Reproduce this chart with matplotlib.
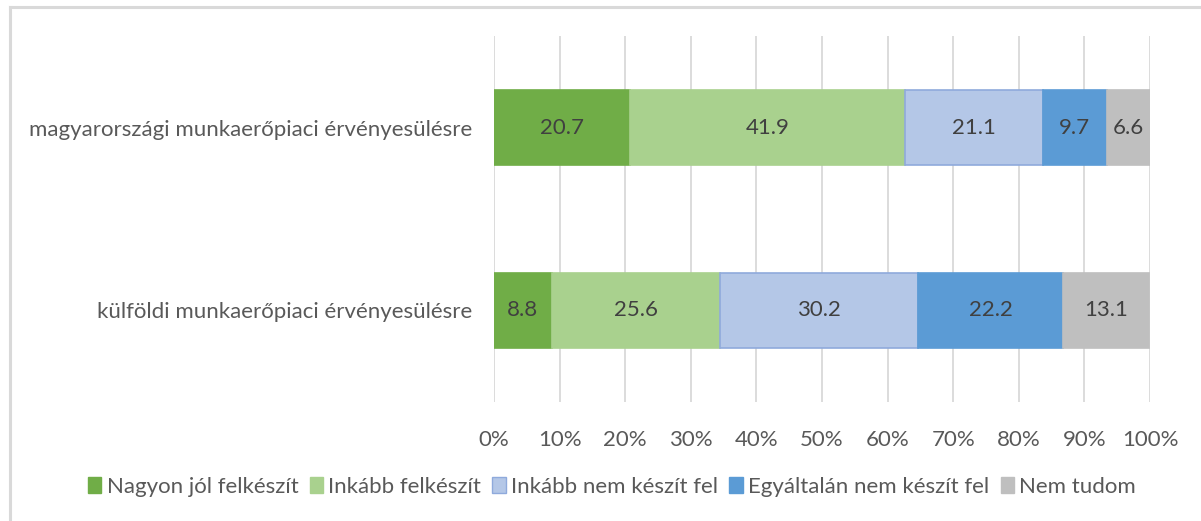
import matplotlib.pyplot as plt
import numpy as np
from matplotlib.patches import Patch
from matplotlib.lines import Line2D

plt.rcParams["font.family"] = ["Lato", "DejaVu Sans"]

# Data
categories = ["magyarországi munkaerőpiaci érvényesülésre", "külföldi munkaerőpiaci érvényesülésre"]
series_names = ["Nagyon jól felkészít", "Inkább felkészít", "Inkább nem készít fel",
                "Egyáltalán nem készít fel", "Nem tudom"]
nagyon = [20.7, 8.8]
inkabb = [41.9, 25.6]
inkabb_nem = [21.1, 30.2]
egyaltalan = [9.7, 22.2]
nem_tudom = [6.6, 13.1]
x_ticks = [0, 10, 20, 30, 40, 50, 60, 70, 80, 90, 100]

values = [nagyon, inkabb, inkabb_nem, egyaltalan, nem_tudom]
colors = ["#70AD47", "#A9D18E", "#B4C7E7", "#5B9BD5", "#BFBFBF"]
edges = ["#70AD47", "#A9D18E", "#8FAADC", "#5B9BD5", "#BFBFBF"]

fig = plt.figure(figsize=(12.01, 5.21), dpi=100)
ax = fig.add_axes([494 / 1201, 1 - 402 / 521, 656 / 1201, 366 / 521])

# Outer chart frame (only left and top edges are in view)
fig.add_artist(Line2D([10 / 1201, 10 / 1201], [0, 1 - 7 / 521], color="#D9D9D9", lw=2.2))
fig.add_artist(Line2D([10 / 1201, 1], [1 - 7 / 521, 1 - 7 / 521], color="#D9D9D9", lw=2.2))

y = np.arange(len(categories))
left = np.zeros(len(categories))
for name, vals, c, ec in zip(series_names, values, colors, edges):
    vals = np.array(vals)
    ax.barh(y, vals, left=left, height=0.41, color=c, edgecolor=ec, linewidth=1.2, zorder=3, label=name)
    for yi, l, v in zip(y, left, vals):
        ax.text(l + v / 2, yi, f"{v:.1f}", ha="center", va="center", fontsize=16, color="#404040", zorder=4)
    left += vals

ax.set_xlim(0, 100)
ax.set_ylim(1.5, -0.5)
ax.set_xticks(x_ticks)
ax.set_xticklabels([f"{t}%" for t in x_ticks])
ax.set_yticks(y)
ax.set_yticklabels(categories)
ax.tick_params(axis="both", length=0, labelsize=16, labelcolor="#595959")
ax.tick_params(axis="x", pad=20)
ax.tick_params(axis="y", pad=16)
ax.grid(axis="x", color="#D9D9D9", linewidth=1.3, zorder=0)
for s in ax.spines.values():
    s.set_visible(False)

handles = [Patch(facecolor=c, edgecolor=ec) for c, ec in zip(colors, edges)]
fig.legend(handles, series_names, loc="center", bbox_to_anchor=(612 / 1201, 1 - 487 / 521), ncol=5,
           frameon=False, fontsize=16, labelcolor="#595959", handlelength=0.6, handleheight=0.7,
           handletextpad=0.25, columnspacing=0.5)

fig.savefig("out.png", dpi=100)
